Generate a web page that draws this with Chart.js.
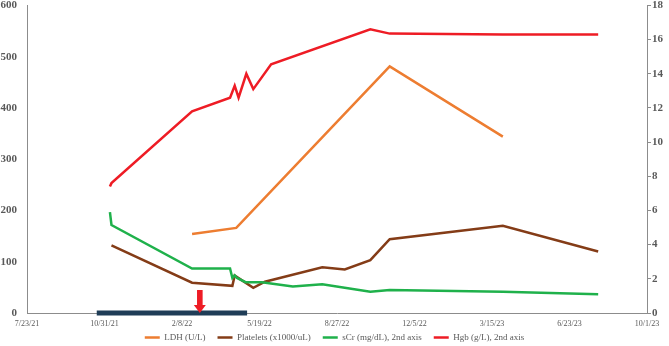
<!DOCTYPE html>
<html>
<head>
<meta charset="utf-8">
<script src="https://cdn.jsdelivr.net/npm/chart.js@4/dist/chart.umd.min.js"></script>
<style>
  html, body { margin: 0; padding: 0; background: #fff; }
  #wrap { width: 669px; height: 346px; position: relative; }
</style>
</head>
<body>
<div id="wrap"><canvas id="chart"></canvas></div>
<script>
// x values are days counted from 7/23/21
const TICK_LABELS = ['7/23/21', '10/31/21', '2/8/22', '5/19/22', '8/27/22', '12/5/22', '3/15/23', '6/23/23', '10/1/23'];

const LDH_DAYS = [213, 270, 468, 614];
const LDH_VALUES = [154, 166, 481, 344];

const PLT_DAYS = [109, 213, 265, 268, 273, 292, 307, 381, 410, 443, 468, 614, 737];
const PLT_VALUES = [132, 59, 53, 73, 68, 49, 61, 89, 85, 103, 144, 170, 120];

const SCR_DAYS = [107, 109, 213, 262, 265, 268, 271, 282, 303, 343, 381, 443, 468, 614, 737];
const SCR_VALUES = [5.9, 5.15, 2.6, 2.6, 2.05, 2.2, 2.05, 1.8, 1.8, 1.55, 1.68, 1.25, 1.35, 1.25, 1.1];

const HGB_DAYS = [107, 109, 213, 262, 268, 273, 283, 292, 315, 443, 468, 614, 737];
const HGB_VALUES = [7.4, 7.6, 11.8, 12.6, 13.3, 12.6, 14.0, 13.1, 14.55, 16.6, 16.35, 16.3, 16.3];

// treatment period bar on the x axis, and the arrow marker
const TREATMENT_DAYS = [90, 284];
const ARROW_DAY = 223;

const SERIF = "'Liberation Serif', 'Times New Roman', serif";
const TEXT_COLOR = '#595959';
const AXIS_COLOR = '#8c8c8c';

function pairs(days, values) {
    return days.map((d, i) => ({ x: d, y: values[i] }));
}

function lineSet(label, days, values, color, axis, order) {
    return {
        label,
        data: pairs(days, values),
        borderColor: color,
        backgroundColor: color,
        borderWidth: 2.5,
        pointRadius: 0,
        tension: 0,
        yAxisID: axis,
        order,
    };
}

const arrowPlugin = {
    id: 'arrowMark',
    afterDatasetsDraw(chart) {
        const { ctx, scales } = chart;
        const x = scales.x.getPixelForValue(ARROW_DAY);
        const yb = scales.y.getPixelForValue(0);
        ctx.save();
        ctx.fillStyle = '#ee1c25';
        ctx.fillRect(x - 2.8, yb - 23, 5.6, 16);
        ctx.beginPath();
        ctx.moveTo(x - 6, yb - 8);
        ctx.lineTo(x + 6, yb - 8);
        ctx.lineTo(x, yb);
        ctx.closePath();
        ctx.fill();
        ctx.restore();
    },
};

// keep the legend box a fixed height so the plot area matches
const legendHeightPlugin = {
    id: 'legendHeight',
    beforeLayout(chart) {
        const legend = chart.legend;
        if (!legend || legend._fixedFit) return;
        const fit = legend.fit.bind(legend);
        legend.fit = function () {
            fit();
            this.height = 25;
        };
        legend._fixedFit = true;
    },
};

new Chart(document.getElementById('chart'), {
    type: 'line',
    data: {
        datasets: [
            lineSet('LDH (U/L)', LDH_DAYS, LDH_VALUES, '#ed7d31', 'y', 4),
            lineSet('Platelets (x1000/uL)', PLT_DAYS, PLT_VALUES, '#843c17', 'y', 3),
            lineSet('sCr (mg/dL), 2nd axis', SCR_DAYS, SCR_VALUES, '#1fb14b', 'y2', 2),
            lineSet('Hgb (g/L), 2nd axis', HGB_DAYS, HGB_VALUES, '#ee1c25', 'y2', 1),
            {
                label: 'treatment',
                data: TREATMENT_DAYS.map(d => ({ x: d, y: 0 })),
                borderColor: '#1f3d57',
                borderWidth: 5,
                pointRadius: 0,
                yAxisID: 'y',
                clip: false,
                order: 0,
            },
        ],
    },
    options: {
        responsive: true,
        maintainAspectRatio: false,
        animation: false,
        layout: { padding: 0 },
        plugins: {
            tooltip: { enabled: false },
            legend: {
                position: 'bottom',
                labels: {
                    color: TEXT_COLOR,
                    font: { family: SERIF, size: 9 },
                    usePointStyle: true,
                    pointStyle: 'line',
                    pointStyleWidth: 15,
                    padding: 12,
                    filter: item => item.text !== 'treatment',
                    sort: (a, b) => a.datasetIndex - b.datasetIndex,
                },
            },
        },
        scales: {
            x: {
                type: 'linear',
                min: 0,
                max: 800,
                grid: { display: false, drawTicks: false },
                border: { display: true, color: AXIS_COLOR, width: 1 },
                ticks: {
                    stepSize: 100,
                    color: TEXT_COLOR,
                    font: { family: SERIF, size: 8 },
                    maxRotation: 0,
                    padding: 6,
                    callback: v => TICK_LABELS[Math.round(v / 100)],
                },
                afterFit: s => {
                    s.height = 8;
                    // labels hang below this short box, so do not clip them
                    s._computeLabelArea = () => undefined;
                },
            },
            y: {
                position: 'left',
                min: 0,
                max: 600,
                grid: { display: true, drawOnChartArea: false, drawTicks: true, tickLength: 10, color: 'rgba(0,0,0,0)' },
                border: { display: true, color: AXIS_COLOR, width: 1 },
                ticks: { stepSize: 100, color: TEXT_COLOR, font: { family: SERIF, size: 11, weight: 'bold', lineHeight: 0.8 }, padding: 0 },
                afterFit: s => { s.width = 27; },
            },
            y2: {
                position: 'right',
                min: 0,
                max: 18,
                grid: { display: true, drawOnChartArea: false, drawTicks: true, tickLength: 4, color: AXIS_COLOR },
                border: { display: true, color: AXIS_COLOR, width: 1 },
                ticks: { stepSize: 2, color: TEXT_COLOR, font: { family: SERIF, size: 11, weight: 'bold', lineHeight: 0.8 }, padding: 1 },
                afterFit: s => { s.width = 22; },
            },
        },
    },
    plugins: [arrowPlugin, legendHeightPlugin],
});
</script>
</body>
</html>
